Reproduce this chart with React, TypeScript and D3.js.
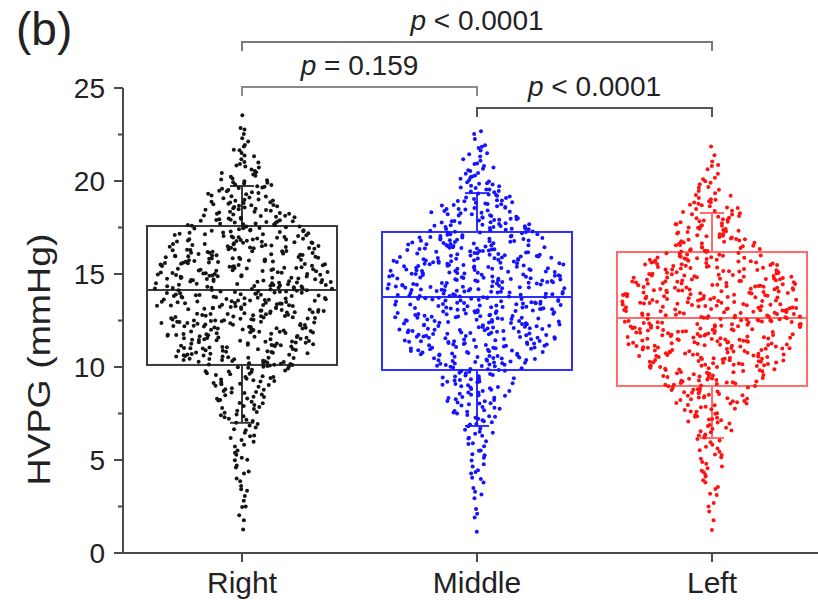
import React from "react";
import * as d3 from "d3";

const W = 818;
const H = 603;

const groups = ["Right", "Middle", "Left"];
const pointColors = ["#151515", "#1414ff", "#ff1212"];
const boxColors = ["#3a3a3a", "#2e2eff", "#ff6a6a"];

// patients per 1 mmHg bin, first bin is [1, 2)
const firstBin = 1;
const rightCounts = [2, 4, 5, 6, 8, 10, 16, 20, 26, 48, 55, 60, 64, 66, 62, 55, 45, 34, 24, 15, 9, 5, 1];
const middleCounts = [2, 3, 5, 7, 8, 12, 18, 24, 28, 46, 58, 62, 66, 68, 64, 54, 42, 32, 22, 14, 9, 3];
const leftCounts = [2, 3, 6, 8, 10, 14, 20, 30, 40, 56, 62, 66, 66, 62, 50, 32, 28, 20, 12, 6, 3];

// box statistics (mmHg)
const q1 = [10.11, 9.84, 8.98];
const median = [14.14, 13.76, 12.63];
const q3 = [17.58, 17.26, 16.18];
const whiskerLow = [7.0, 6.83, 6.18];
const whiskerHigh = [19.73, 19.35, 18.28];

const yTicks = [0, 5, 10, 15, 20, 25];
const yMinorTicks = [2.5, 7.5, 12.5, 17.5, 22.5];

// significance brackets
const pairLeft = ["Right", "Right", "Middle"];
const pairRight = ["Left", "Middle", "Left"];
const pText = ["< 0.0001", "= 0.159", "< 0.0001"];
const bracketLevel = [27.47, 25.05, 23.92];
const bracketColors = ["#7a7a7a", "#8a8a8a", "#555555"];

const countsByGroup = [rightCounts, middleCounts, leftCounts];

const y = d3.scaleLinear().domain([0, 25]).range([553, 88]);
const x = d3.scalePoint<string>().domain(groups).range([242, 712]);
const boxHalf = 95;
const capHalf = 12;
const axisColor = "#4a4a4a";
const font = "'Liberation Sans', Arial, sans-serif";

type Pt = { cx: number; cy: number };

// deterministic jitter for the dot layout
const hash = (n: number) => {
  const s = Math.sin(n) * 43758.5453;
  return s - Math.floor(s);
};

function swarm(counts: number[], gi: number): Pt[] {
  const maxC = d3.max(counts) as number;
  const centres = counts.map((_, b) => firstBin + b + 0.5);
  const dens = d3.scaleLinear().domain(centres).range(counts).clamp(true);
  const pts: Pt[] = [];
  counts.forEach((n, b) => {
    for (let i = 0; i < n; i++) {
      const seed = gi * 10000 + b * 100 + i;
      const u = (i + hash(seed * 1.7 + 0.3)) / n;
      const w = hash(seed * 3.1 + 11.7);
      const v = firstBin + b + u;
      const hw = Math.max(2.5, (boxHalf - 3) * (dens(v) as number) / maxC);
      pts.push({ cx: (x(groups[gi]) as number) + hw * (2 * w - 1), cy: y(v) });
    }
  });
  return pts;
}

export default function App() {
  const axisLeft = 123;
  const axisBottom = y(0);
  return (
    <svg
      width={W}
      height={H}
      viewBox={`0 0 ${W} ${H}`}
      style={{ position: "absolute", left: 0, top: 0, background: "#fff" }}
      fontFamily={font}
    >
      <text x={16} y={45} fontSize={46} fill="#222">(b)</text>

      {/* boxes */}
      {groups.map((g, gi) => {
        const cx = x(g) as number;
        const c = boxColors[gi];
        return (
          <g key={g} stroke={c} strokeWidth={2} fill="none">
            <rect x={cx - boxHalf} y={y(q3[gi])} width={boxHalf * 2} height={y(q1[gi]) - y(q3[gi])} />
            <line x1={cx - boxHalf} x2={cx + boxHalf} y1={y(median[gi])} y2={y(median[gi])} />
            <line x1={cx} x2={cx} y1={y(q3[gi])} y2={y(whiskerHigh[gi])} />
            <line x1={cx} x2={cx} y1={y(q1[gi])} y2={y(whiskerLow[gi])} />
            <line x1={cx - capHalf} x2={cx + capHalf} y1={y(whiskerHigh[gi])} y2={y(whiskerHigh[gi])} />
            <line x1={cx - capHalf} x2={cx + capHalf} y1={y(whiskerLow[gi])} y2={y(whiskerLow[gi])} />
          </g>
        );
      })}

      {/* points */}
      {countsByGroup.map((counts, gi) => (
        <g key={gi} fill={pointColors[gi]}>
          {swarm(counts, gi).map((p, i) => (
            <circle key={i} cx={p.cx} cy={p.cy} r={2} />
          ))}
        </g>
      ))}

      {/* axes */}
      <g stroke={axisColor} strokeWidth={2}>
        <line x1={axisLeft} x2={axisLeft} y1={y(25)} y2={axisBottom} />
        {yTicks.map((t) => (
          <line key={t} x1={axisLeft - 9} x2={axisLeft} y1={y(t)} y2={y(t)} />
        ))}
        {yMinorTicks.map((t) => (
          <line key={t} x1={axisLeft - 5} x2={axisLeft} y1={y(t)} y2={y(t)} />
        ))}
        <line x1={axisLeft} x2={W} y1={axisBottom} y2={axisBottom} />
        {groups.map((g) => (
          <line key={g} x1={x(g)} x2={x(g)} y1={axisBottom} y2={axisBottom + 9} />
        ))}
      </g>
      {yTicks.map((t) => (
        <text key={t} x={105} y={y(t)} dy="0.36em" textAnchor="end" fontSize={28} fill="#222">
          {t}
        </text>
      ))}
      {groups.map((g) => (
        <text key={g} x={x(g)} y={593} textAnchor="middle" fontSize={30} fill="#222">
          {g}
        </text>
      ))}
      <text
        transform={`translate(50, ${(232 + 487) / 2}) rotate(-90)`}
        textAnchor="middle"
        fontSize={31}
        textLength={252}
        lengthAdjust="spacingAndGlyphs"
        fill="#222"
      >
        HVPG (mmHg)
      </text>

      {/* significance brackets */}
      {pairLeft.map((a, i) => {
        const x1 = x(a) as number;
        const x2 = x(pairRight[i]) as number;
        const by = y(bracketLevel[i]);
        return (
          <g key={i}>
            <path
              d={`M${x1},${by + 9}V${by}H${x2}V${by + 9}`}
              fill="none"
              stroke={bracketColors[i]}
              strokeWidth={2}
            />
            <text x={(x1 + x2) / 2} y={by - 12} textAnchor="middle" fontSize={28} fill="#222">
              <tspan fontStyle="italic">p</tspan> {pText[i]}
            </text>
          </g>
        );
      })}
    </svg>
  );
}
